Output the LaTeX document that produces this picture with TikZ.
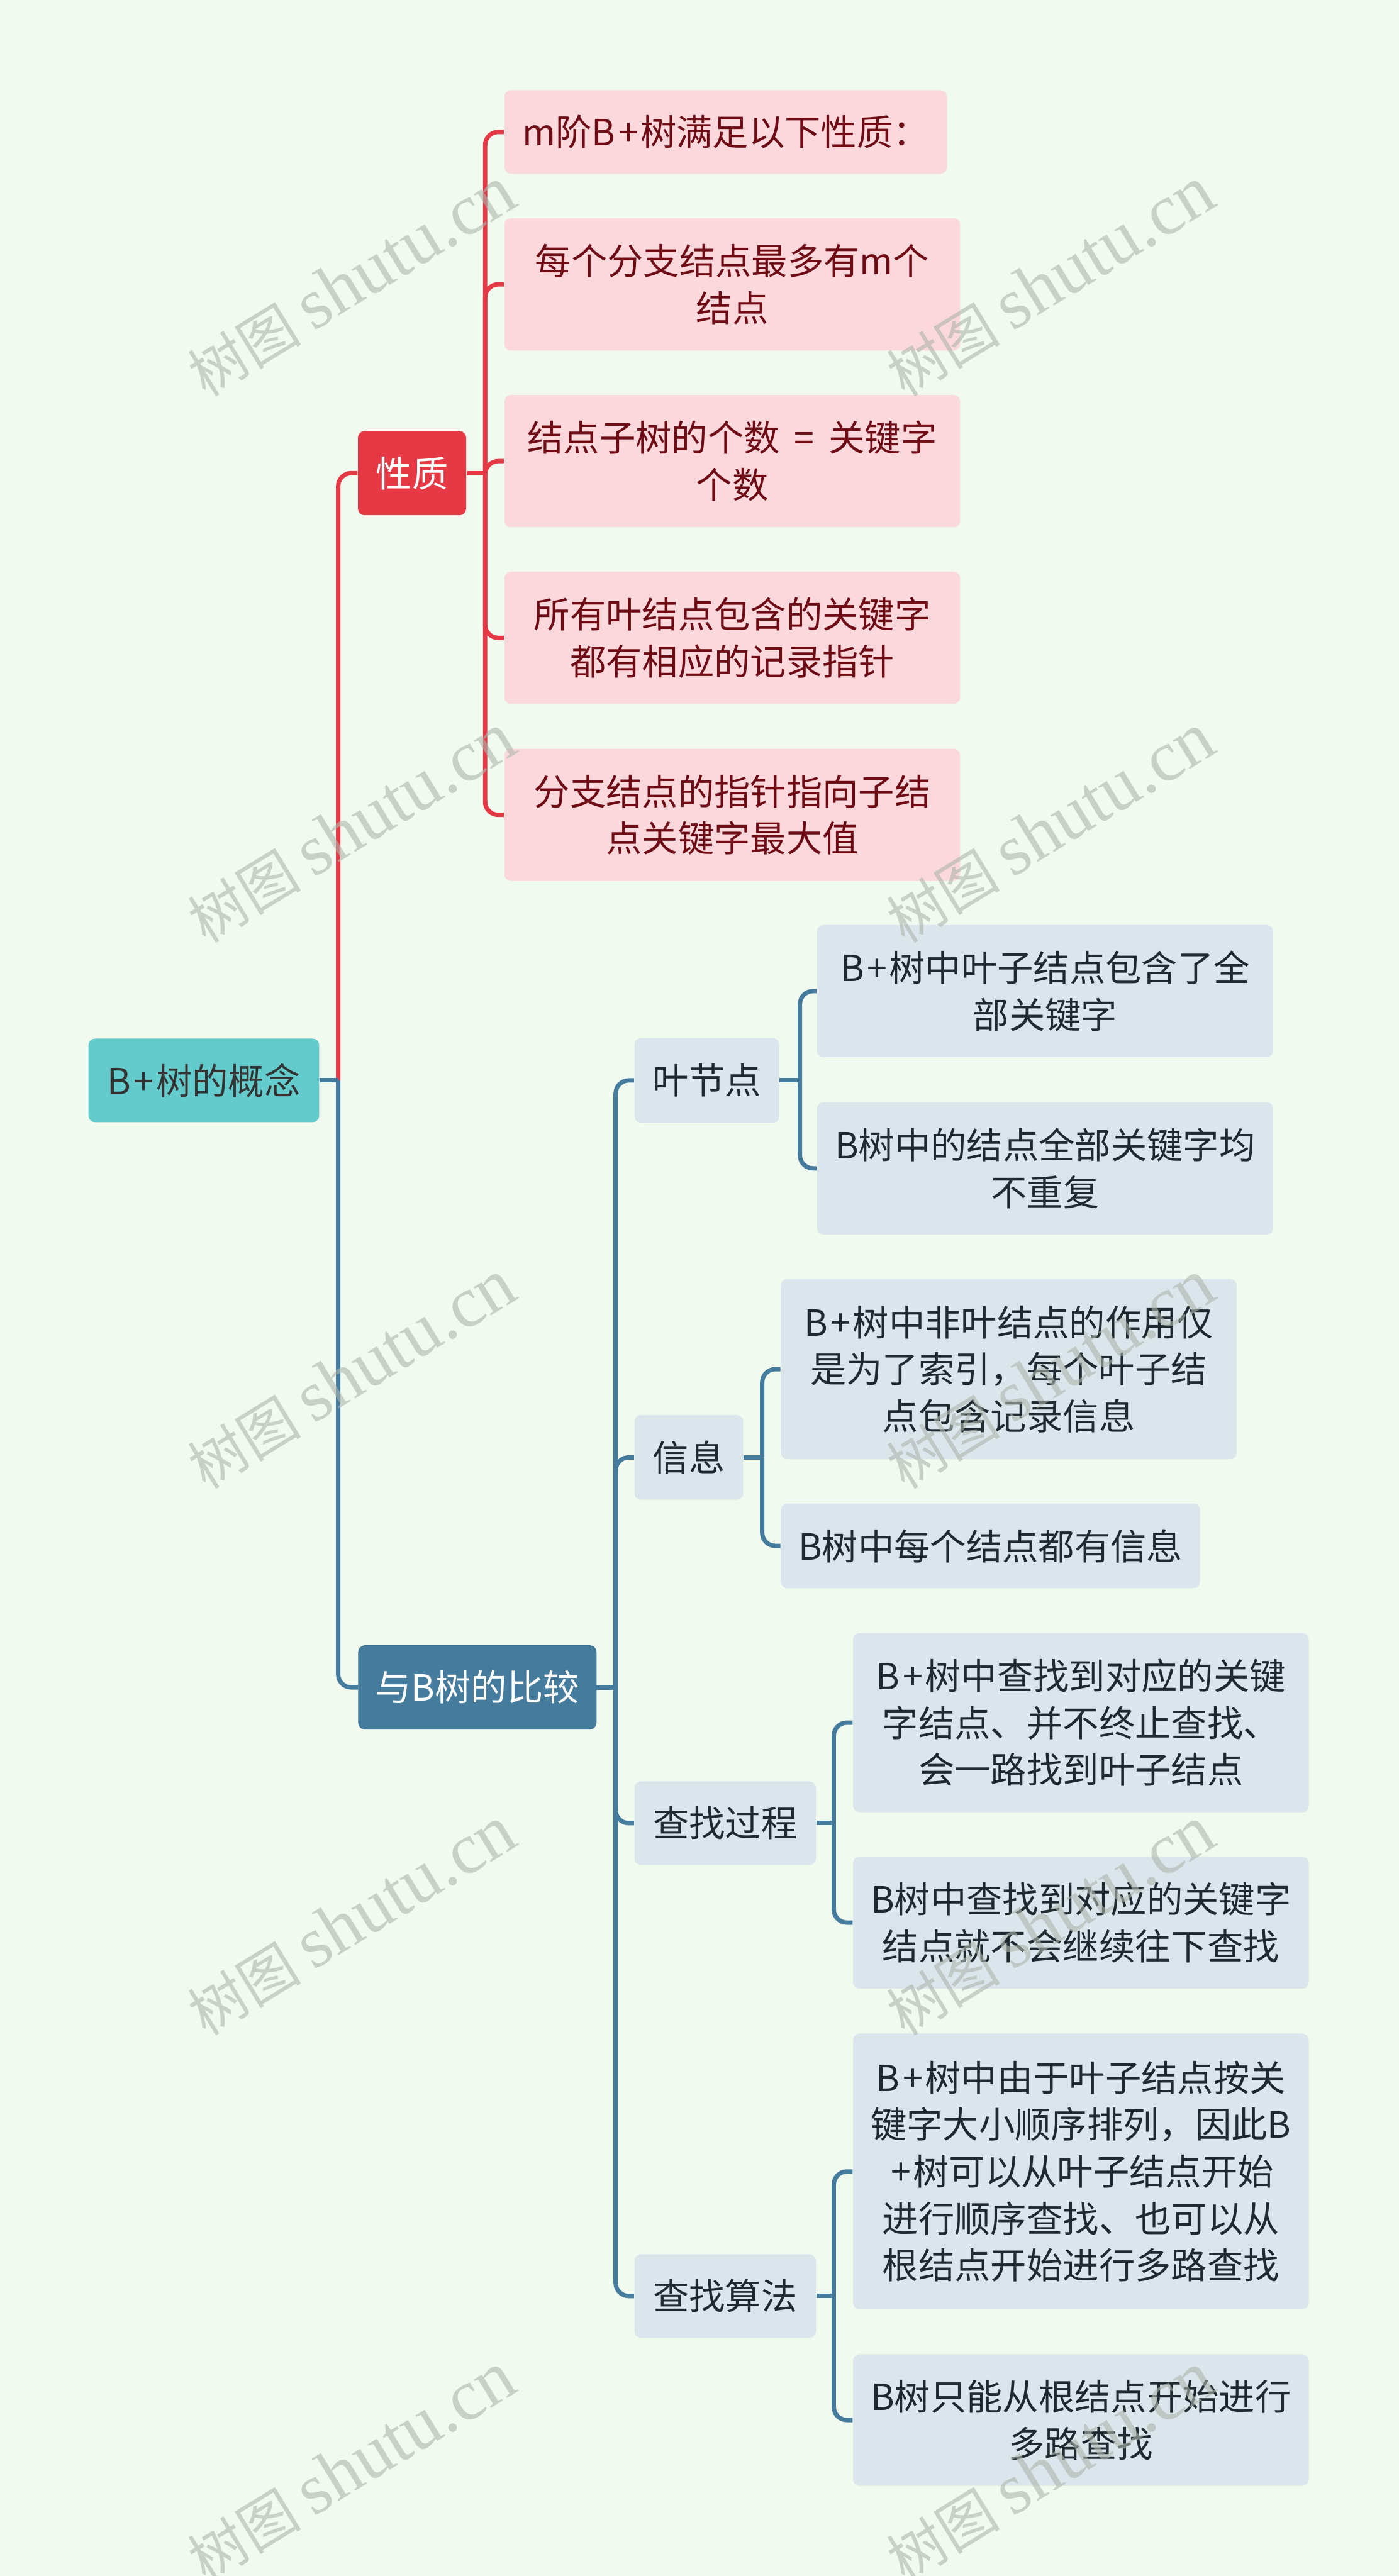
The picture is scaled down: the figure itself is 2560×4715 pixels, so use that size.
\documentclass[tikz,border=0pt]{standalone}
\usepackage{fontspec}
\setmainfont{Noto Sans CJK SC}
\newfontfamily\wmlatin{Liberation Serif}
\usetikzlibrary{calc}
\newcommand\bpl{\kern0.08em+\kern0.06em}
\definecolor{bgc}{HTML}{F1FAEE}
\definecolor{redm}{HTML}{E63946}
\definecolor{bluem}{HTML}{457B9D}
\definecolor{bluedk}{HTML}{3C6E8E}
\definecolor{rootc}{HTML}{63CBCC}
\definecolor{pinkf}{HTML}{FAD8DC}
\definecolor{pinkt}{HTML}{6E0B14}
\definecolor{greyf}{HTML}{DBE5EC}
\definecolor{greyt}{HTML}{1F2A30}
\definecolor{roott}{HTML}{333333}
\definecolor{wmc}{HTML}{AEB6AE}
\begin{document}
\begin{tikzpicture}[x=0.25pt,y=-0.25pt,
  sz/.style 2 args={minimum width=#1*0.25pt, minimum height=#2*0.25pt},
  box/.style={rounded corners=3pt, inner sep=0pt, align=center, font=\fontsize{16.5pt}{21.5pt}\selectfont},
  rootbox/.style={box, fill=rootc, text=roott},
  redbox/.style={box, fill=redm, text=white},
  bluebox/.style={box, fill=bluem, draw=bluedk, line width=0.3pt, text=white},
  pinkbox/.style={box, fill=pinkf, text=pinkt},
  greybox/.style={box, fill=greyf, text=greyt},
  redline/.style={draw=redm, line width=2pt},
  blueline/.style={draw=bluem, line width=2pt},
  elbow/.style={rounded corners=6pt},
  wm/.style={rotate=31.5, text=wmc, text opacity=0.6, inner sep=0pt}
]
\useasboundingbox (0,0) rectangle (2560,4715);
\fill[bgc] (0,0) rectangle (2560,4715);

% root and main branches
\node[rootbox, sz={422}{153}] (root) at (373,1977.5) {B\bpl 树的概念};
\node[redbox, sz={198}{154}] (xz) at (754,866) {性质};
\node[bluebox, sz={435}{153}] (cmp) at (873.5,3088.5) {与B树的比较};

% properties
\node[pinkbox, sz={810}{153}] (p1) at (1328,241.5) {m阶B\bpl 树满足以下性质：};
\node[pinkbox, sz={834}{242}] (p2) at (1340,520.5) {每个分支结点最多有m个\\结点};
\node[pinkbox, sz={834}{242}] (p3) at (1340,844) {结点子树的个数\hspace{0.4em}=\hspace{0.4em}关键字\\个数};
\node[pinkbox, sz={834}{242}] (p4) at (1340,1167.5) {所有叶结点包含的关键字\\都有相应的记录指针};
\node[pinkbox, sz={834}{242}] (p5) at (1340,1491.5) {分支结点的指针指向子结\\点关键字最大值};

% comparison sub-branches
\node[greybox, sz={265}{155}] (leaf) at (1293.5,1977.5) {叶节点};
\node[greybox, sz={199}{155}] (info) at (1260.5,2667.5) {信息};
\node[greybox, sz={332}{153}] (proc) at (1327,3337) {查找过程};
\node[greybox, sz={332}{153}] (algo) at (1327,4202.5) {查找算法};

\node[greybox, sz={835}{242}] (l1) at (1912.5,1814) {B\bpl 树中叶子结点包含了全\\部关键字};
\node[greybox, sz={835}{242}] (l2) at (1912.5,2138.5) {B树中的结点全部关键字均\\不重复};
\node[greybox, sz={834}{330}] (i1) at (1846,2506) {B\bpl 树中非叶结点的作用仅\\是为了索引，每个叶子结\\点包含记录信息};
\node[greybox, sz={767}{155}] (i2) at (1812.5,2829.5) {B树中每个结点都有信息};
\node[greybox, sz={834}{328}] (q1) at (1978,3153) {B\bpl 树中查找到对应的关键\\字结点、并不终止查找、\\会一路找到叶子结点};
\node[greybox, sz={834}{242}] (q2) at (1978,3519) {B树中查找到对应的关键字\\结点就不会继续往下查找};
\node[greybox, sz={834}{505}] (a1) at (1978,3974.5) {B\bpl 树中由于叶子结点按关\\键字大小顺序排列，因此B\\\bpl 树可以从叶子结点开始\\进行顺序查找、也可以从\\根结点开始进行多路查找};
\node[greybox, sz={834}{241}] (a2) at (1978,4429.5) {B树只能从根结点开始进行\\多路查找};

% junction points
\coordinate (jroot) at ($(root.east)+(34,0)$);
\coordinate (jxz) at ($(xz.east)+(34,0)$);
\coordinate (jcmp) at ($(cmp.east)+(35,0)$);
\coordinate (jleaf) at ($(leaf.east)+(37,0)$);
\coordinate (jinfo) at ($(info.east)+(34,0)$);
\coordinate (jproc) at ($(proc.east)+(32,0)$);
\coordinate (jalgo) at ($(algo.east)+(32,0)$);

% connectors
\draw[redline, elbow] (jroot) |- (xz.west);
\draw[blueline, elbow] (jroot) |- (cmp.west);
\draw[blueline] (root.east) -- (jroot);

\draw[redline] (xz.east) -- (jxz);
\foreach \c in {p1,p2,p3,p4,p5} \draw[redline, elbow] (jxz) |- (\c.west);

\draw[blueline] (cmp.east) -- (jcmp);
\foreach \c in {leaf,info,proc,algo} \draw[blueline, elbow] (jcmp) |- (\c.west);

\draw[blueline] (leaf.east) -- (jleaf);
\foreach \c in {l1,l2} \draw[blueline, elbow] (jleaf) |- (\c.west);
\draw[blueline] (info.east) -- (jinfo);
\foreach \c in {i1,i2} \draw[blueline, elbow] (jinfo) |- (\c.west);
\draw[blueline] (proc.east) -- (jproc);
\foreach \c in {q1,q2} \draw[blueline, elbow] (jproc) |- (\c.west);
\draw[blueline] (algo.east) -- (jalgo);
\foreach \c in {a1,a2} \draw[blueline, elbow] (jalgo) |- (\c.west);

% watermarks
\foreach \r [count=\k] in {516,1516,2516,3516,4516} {
  \node[wm] (wl\k) at (643,\r) {\fontsize{26pt}{26pt}\selectfont 树图 {\wmlatin\fontsize{33pt}{33pt}\selectfont shutu.cn}};
  \node[wm] (wr\k) at (1922,\r) {\fontsize{26pt}{26pt}\selectfont 树图 {\wmlatin\fontsize{33pt}{33pt}\selectfont shutu.cn}};
}
\end{tikzpicture}
\end{document}
